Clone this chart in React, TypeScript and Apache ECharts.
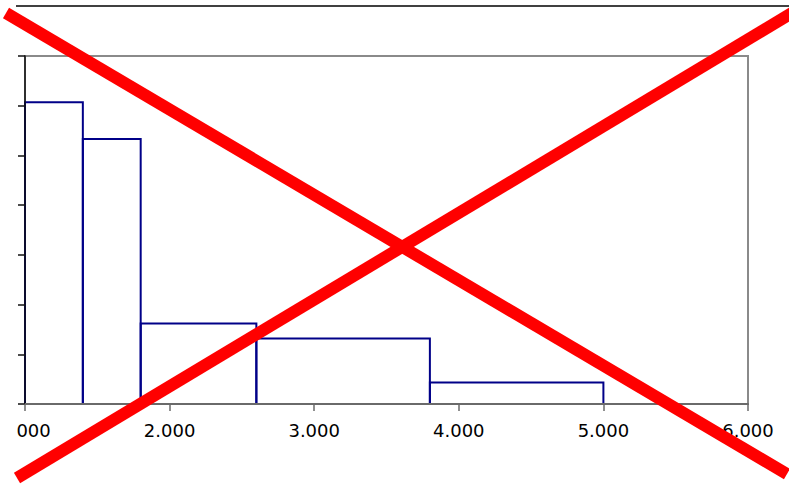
import React, { useEffect, useRef } from "react";
import * as echarts from "echarts";

// Histogram bins: edges along x and the bar height for each bin
const binEdges = [1.0, 1.4, 1.8, 2.6, 3.8, 5.0];
const binHeights = [0.607, 0.533, 0.162, 0.132, 0.043];

// Axis ranges
const xMin = 1;
const xMax = 6;
const xStep = 1;
const yMin = 0;
const yMax = 0.7;
const yStep = 0.1;

const W = 789;
const H = 487;

export default function App() {
  const ref = useRef<HTMLDivElement>(null);

  useEffect(() => {
    if (!ref.current) return;
    const chart = echarts.init(ref.current, undefined, { renderer: "svg" });

    const bins = binHeights.map((h, i) => [binEdges[i], binEdges[i + 1], h]);

    chart.setOption({
      animation: false,
      backgroundColor: "#ffffff",
      grid: {
        left: 25,
        right: 41,
        top: 56,
        bottom: 83,
        outerBoundsMode: "none",
        containLabel: false,
        show: true,
        borderColor: "#8a8a8a",
        borderWidth: 2,
        backgroundColor: "transparent",
      },
      xAxis: {
        type: "value",
        min: xMin,
        max: xMax,
        interval: xStep,
        z: 3,
        axisLine: { show: true, onZero: false, lineStyle: { color: "#6a6a6a", width: 2 } },
        axisTick: { show: true, length: 7, lineStyle: { color: "#6a6a6a", width: 1.5 } },
        splitLine: { show: false },
        axisLabel: {
          margin: 17,
          fontFamily: "DejaVu Sans",
          fontSize: 18,
          color: "#000",
          formatter: (v: number) => v.toFixed(3),
        },
      },
      yAxis: {
        type: "value",
        min: yMin,
        max: yMax,
        interval: yStep,
        z: 3,
        axisLine: { show: true, lineStyle: { color: "#111", width: 1.5 } },
        axisTick: { show: true, length: 7, lineStyle: { color: "#111", width: 1.5 } },
        splitLine: { show: false },
        axisLabel: { show: false },
      },
      series: [
        {
          type: "custom",
          data: bins,
          renderItem: (params: any, api: any) => {
            const x0 = api.value(0);
            const x1 = api.value(1);
            const h = api.value(2);
            const a = api.coord([x0, 0]);
            const b = api.coord([x0, h]);
            const c = api.coord([x1, h]);
            const d = api.coord([x1, 0]);
            return {
              type: "polyline",
              shape: { points: [a, b, c, d] },
              style: { stroke: "#000088", lineWidth: 2, fill: "none" },
            };
          },
        },
      ],
      graphic: [
        {
          type: "rect",
          z: 100,
          shape: { x: 0, y: 0, width: 16, height: H },
          style: { fill: "#ffffff" },
        },
        {
          type: "line",
          z: 101,
          shape: { x1: 16, y1: 6, x2: W, y2: 6 },
          style: { stroke: "#000000", lineWidth: 1.5 },
        },
        {
          type: "line",
          z: 110,
          shape: { x1: 6, y1: 13, x2: 787, y2: 474 },
          style: { stroke: "#ff0000", lineWidth: 12, lineCap: "butt" },
        },
        {
          type: "line",
          z: 110,
          shape: { x1: 17, y1: 478, x2: 792, y2: 13 },
          style: { stroke: "#ff0000", lineWidth: 12, lineCap: "butt" },
        },
      ],
    });

    return () => chart.dispose();
  }, []);

  return (
    <div
      ref={ref}
      style={{ position: "fixed", left: 0, top: 0, width: W, height: H }}
    />
  );
}
